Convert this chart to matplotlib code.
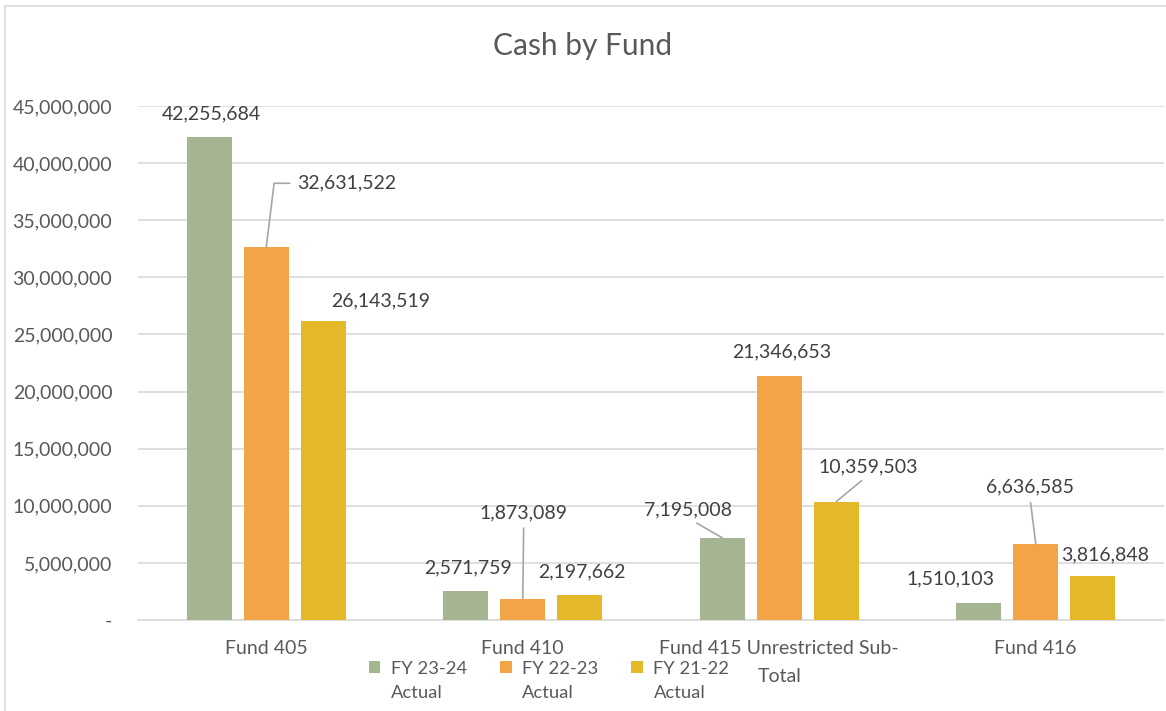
import numpy as np
import matplotlib.pyplot as plt
from matplotlib.patches import Rectangle
from matplotlib.container import BarContainer
from matplotlib.legend_handler import HandlerPatch

plt.rcParams['font.family'] = ['Lato', 'DejaVu Sans']

# data
funds = ['Fund 405', 'Fund 410', 'Fund 415 Unrestricted Sub-\nTotal', 'Fund 416']
series_names = ['FY 23-24\nActual', 'FY 22-23\nActual', 'FY 21-22\nActual']
fy2324 = [42255684, 2571759, 7195008, 1510103]
fy2223 = [32631522, 1873089, 21346653, 6636585]
fy2122 = [26143519, 2197662, 10359503, 3816848]
colors = ['#a5b592', '#f3a447', '#e4b929']

# label offsets from bar top in pixels (dx, dy), leader line anchor on the text (or None)
offsets = [
    [(2, 23, None), (2, 23, None), (-34, 28, (0.5, 0.0)), (-28, 24, None)],
    [(80, 64, (0.0, 0.5)), (1, 86, (0.5, 0.0)), (2, 24, None), (-6, 57, (0.5, 0.0))],
    [(57, 21, None), (2, 23, None), (32, 35, (0.5, 0.0)), (12, 22, None)],
]

fig = plt.figure(figsize=(11.66, 7.11), dpi=100)
fig.patches.append(Rectangle((5 / 1166, -0.1), 1.2, (711 - 6) / 711 + 0.1,
                             transform=fig.transFigure, fill=False,
                             edgecolor='#d9d9d9', linewidth=1.2))
ax = fig.add_axes([138 / 1166, (711 - 620) / 711, (1164 - 138) / 1166, (620 - 106) / 711])

x = np.arange(len(funds))
w = 0.175
step = 0.222
all_series = [fy2324, fy2223, fy2122]
for i, vals in enumerate(all_series):
    xs = x + (i - 1) * step
    ax.bar(xs, vals, width=w, color=colors[i], label=series_names[i], zorder=3)
    for j, v in enumerate(vals):
        dx, dy, lead = offsets[i][j]
        kw = {}
        if lead is not None:
            conn = 'angle,angleA=0,angleB=83,rad=0' if lead == (0.0, 0.5) else 'arc3'
            kw['arrowprops'] = dict(arrowstyle='-', color='#a6a6a6', lw=1.2,
                                    shrinkA=3, shrinkB=0, relpos=lead,
                                    connectionstyle=conn)
        ax.annotate(f'{v:,}', xy=(xs[j], v), xytext=(dx * 0.72, dy * 0.72),
                    textcoords='offset points', ha='center', va='center',
                    fontsize=14, color='#404040', **kw)

ax.set_xlim(-0.5, 3.5)
ax.set_ylim(0, 45000000)
ax.set_yticks(np.arange(0, 45000001, 5000000))
ax.set_yticklabels(['-'] + [f'{t:,}' for t in range(5000000, 45000001, 5000000)])
ax.set_xticks(x)
ax.set_xticklabels(funds, linespacing=1.75)
ax.tick_params(axis='both', length=0, labelsize=14, colors='#595959')
ax.tick_params(axis='y', pad=18.5)
ax.tick_params(axis='x', pad=14.5)
ax.grid(axis='y', color='#d9d9d9', linewidth=1.2, zorder=0)
for s in ['top', 'right', 'left']:
    ax.spines[s].set_visible(False)
ax.spines['bottom'].set_color('#d9d9d9')
ax.spines['bottom'].set_linewidth(1.2)

fig.text(0.5, 1 - 46 / 711, 'Cash by Fund', ha='center', va='center',
         fontsize=21.5, color='#595959')


# legend square sits beside the first line of the wrapped label
def square(legend, orig_handle, xdescent, ydescent, width, height, fontsize):
    s = 8.6
    return Rectangle((-xdescent, 10.3), s, s)


def first_bar_style(handle, orig):
    handle.update_from(orig.patches[0])


leg = fig.legend(loc='center', bbox_to_anchor=(549 / 1166, 1 - 681 / 711), ncol=3,
                 frameon=False, fontsize=13.2, handlelength=0.66, handleheight=0.7,
                 handletextpad=0.55, columnspacing=1.8, labelspacing=0,
                 handler_map={BarContainer: HandlerPatch(patch_func=square,
                                                         update_func=first_bar_style)})
for t in leg.get_texts():
    t.set_color('#595959')
    t.set_linespacing(1.6)

fig.savefig('out.png', dpi=100)
